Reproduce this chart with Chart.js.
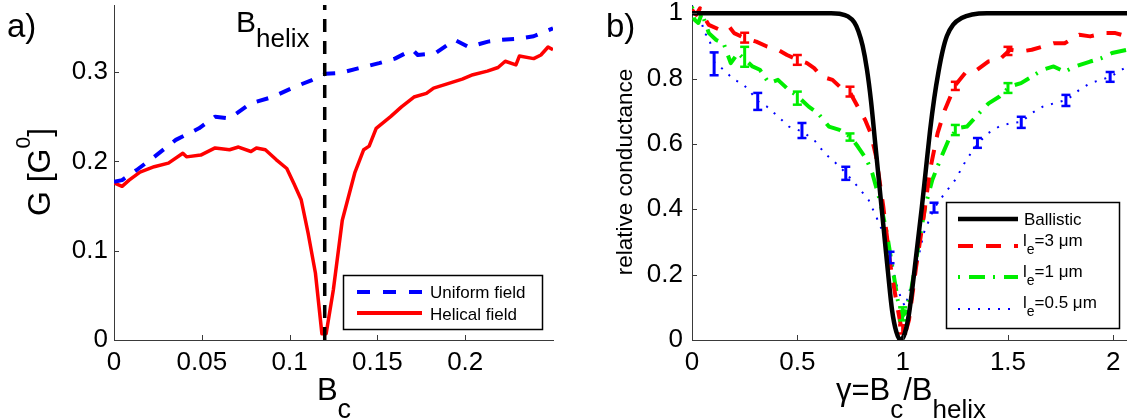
<!DOCTYPE html>
<html><head><meta charset="utf-8">
<script src="https://cdn.jsdelivr.net/npm/chart.js@4/dist/chart.umd.min.js"></script>
<style>
html,body{margin:0;padding:0;background:#fff;overflow:hidden;width:1127px;height:419px}
#c1{position:absolute;left:0;top:0}
#c2{position:absolute;left:560px;top:0}
</style>
</head><body>
<canvas id="c1" width="560" height="419"></canvas>
<canvas id="c2" width="567" height="419"></canvas>
<script>
const FONT = '"Liberation Sans", Arial, Helvetica, sans-serif';

// ---------- Panel a) ----------
const uniformX = [0, 0.0046, 0.0127, 0.0229, 0.0352, 0.0484, 0.0576, 0.0658, 0.078, 0.0902, 0.1025, 0.1127, 0.1204, 0.129, 0.139, 0.151, 0.16, 0.17, 0.173, 0.183, 0.194, 0.202, 0.213, 0.221, 0.229, 0.239, 0.25];
const uniformY = [0.177, 0.179, 0.190, 0.205, 0.224, 0.237, 0.250, 0.248, 0.265, 0.272, 0.283, 0.291, 0.298, 0.299, 0.304, 0.310, 0.315, 0.325, 0.319, 0.321, 0.336, 0.328, 0.334, 0.336, 0.337, 0.340, 0.349];
const helicalX = [0, 0.0046, 0.0086, 0.0148, 0.0229, 0.031, 0.0392, 0.0413, 0.0494, 0.0576, 0.0658, 0.0709, 0.078, 0.0811, 0.0862, 0.0923, 0.0984, 0.1025, 0.1066, 0.1106, 0.1147, 0.1184, 0.1208, 0.1249, 0.13, 0.1371, 0.1422, 0.1453, 0.1493, 0.1575, 0.1637, 0.1708, 0.1779, 0.182, 0.1902, 0.1983, 0.2044, 0.2126, 0.2187, 0.2228, 0.2289, 0.2309, 0.239, 0.2431, 0.2472, 0.25];
const helicalY = [0.176, 0.172, 0.179, 0.188, 0.194, 0.198, 0.209, 0.205, 0.207, 0.215, 0.213, 0.216, 0.211, 0.215, 0.213, 0.202, 0.192, 0.175, 0.157, 0.119, 0.075, 0.007, 0.007, 0.056, 0.134, 0.187, 0.213, 0.217, 0.237, 0.250, 0.261, 0.272, 0.276, 0.282, 0.287, 0.292, 0.297, 0.301, 0.305, 0.312, 0.308, 0.318, 0.315, 0.319, 0.328, 0.325];
const helixMarkX = [0.12, 0.12];
const helixMarkY = [0, 0.375];
const aXTicks = [0, 0.05, 0.1, 0.15, 0.2];
const aXTickLabels = ['0', '0.05', '0.1', '0.15', '0.2'];
const aYTicks = [0, 0.1, 0.2, 0.3];
const aYTickLabels = ['0', '0.1', '0.2', '0.3'];
const aLegend = ['Uniform field', 'Helical field'];

// ---------- Panel b) ----------
const ballisticX = [0, 0.3, 0.6, 0.66, 0.70, 0.74, 0.77, 0.79, 0.81, 0.83, 0.85, 0.87, 0.89, 0.91, 0.93, 0.95, 0.97, 0.99, 1.01, 1.03, 1.05, 1.07, 1.09, 1.11, 1.13, 1.15, 1.17, 1.19, 1.21, 1.24, 1.28, 1.33, 1.4, 1.7, 2.065];
const ballisticY = [1, 1, 1, 1, 0.998, 0.99, 0.972, 0.945, 0.9, 0.83, 0.73, 0.6, 0.47, 0.34, 0.21, 0.09, 0.025, 0, 0.02, 0.08, 0.18, 0.29, 0.4, 0.52, 0.64, 0.74, 0.82, 0.885, 0.93, 0.965, 0.985, 0.996, 1, 1, 1];
const le3X = [0, 0.02, 0.038, 0.055, 0.08, 0.132, 0.176, 0.2, 0.253, 0.305, 0.356, 0.408, 0.451, 0.503, 0.546, 0.58, 0.615, 0.667, 0.7, 0.752, 0.787, 0.822, 0.848, 0.874, 0.908, 0.943, 0.969, 0.995, 1.012, 1.03, 1.064, 1.1, 1.13, 1.166, 1.2, 1.25, 1.302, 1.354, 1.406, 1.458, 1.51, 1.562, 1.613, 1.665, 1.717, 1.769, 1.838, 1.89, 1.958, 2.01, 2.065];
const le3Y = [1.01, 0.995, 1.015, 0.99, 0.964, 0.949, 0.959, 0.939, 0.923, 0.913, 0.898, 0.888, 0.872, 0.857, 0.847, 0.832, 0.806, 0.796, 0.776, 0.755, 0.714, 0.673, 0.633, 0.561, 0.408, 0.224, 0.122, 0.031, 0.02, 0.061, 0.224, 0.378, 0.52, 0.633, 0.704, 0.78, 0.821, 0.827, 0.852, 0.857, 0.888, 0.883, 0.888, 0.898, 0.908, 0.908, 0.934, 0.929, 0.939, 0.939, 0.929];
const le1X = [0, 0.012, 0.03, 0.047, 0.08, 0.115, 0.15, 0.184, 0.218, 0.253, 0.287, 0.322, 0.365, 0.408, 0.451, 0.503, 0.554, 0.598, 0.65, 0.7, 0.752, 0.787, 0.83, 0.856, 0.891, 0.925, 0.951, 0.977, 0.995, 1.012, 1.038, 1.072, 1.107, 1.141, 1.184, 1.218, 1.261, 1.305, 1.356, 1.408, 1.46, 1.51, 1.562, 1.613, 1.665, 1.717, 1.769, 1.82, 1.89, 1.942, 1.994, 2.065];
const le1Y = [1.02, 0.98, 0.97, 1.0, 0.939, 0.918, 0.908, 0.847, 0.878, 0.857, 0.837, 0.827, 0.786, 0.796, 0.77, 0.745, 0.714, 0.694, 0.653, 0.643, 0.622, 0.592, 0.551, 0.51, 0.429, 0.327, 0.224, 0.122, 0.071, 0.082, 0.143, 0.276, 0.408, 0.49, 0.561, 0.612, 0.648, 0.653, 0.689, 0.724, 0.745, 0.776, 0.786, 0.806, 0.827, 0.837, 0.821, 0.837, 0.852, 0.862, 0.878, 0.888];
const le05X = [0, 0.012, 0.038, 0.055, 0.08, 0.107, 0.132, 0.167, 0.2, 0.236, 0.27, 0.313, 0.356, 0.408, 0.46, 0.522, 0.58, 0.63, 0.683, 0.732, 0.787, 0.838, 0.874, 0.908, 0.943, 0.969, 0.995, 1.012, 1.038, 1.072, 1.1, 1.149, 1.2, 1.25, 1.302, 1.358, 1.406, 1.458, 1.51, 1.565, 1.613, 1.665, 1.717, 1.78, 1.838, 1.89, 1.942, 1.988, 2.065];
const le05Y = [1.03, 0.99, 1.015, 0.939, 0.929, 0.847, 0.837, 0.816, 0.796, 0.786, 0.765, 0.73, 0.714, 0.684, 0.653, 0.638, 0.612, 0.571, 0.541, 0.51, 0.469, 0.429, 0.378, 0.327, 0.25, 0.173, 0.122, 0.102, 0.163, 0.245, 0.327, 0.403, 0.449, 0.49, 0.551, 0.602, 0.633, 0.653, 0.663, 0.668, 0.694, 0.714, 0.724, 0.735, 0.765, 0.786, 0.796, 0.806, 0.837];
const le3ErrX = [0.25, 0.5, 0.75, 1.0, 1.25, 1.5];
const le3ErrLo = [0.91, 0.842, 0.745, 0.02, 0.765, 0.872];
const le3ErrHi = [0.94, 0.872, 0.775, 0.045, 0.79, 0.897];
const le1ErrX = [0.25, 0.5, 0.75, 1.0, 1.25, 1.5];
const le1ErrLo = [0.836, 0.72, 0.61, 0.06, 0.627, 0.756];
const le1ErrHi = [0.897, 0.76, 0.632, 0.1, 0.658, 0.786];
const le05ErrX = [0.105, 0.312, 0.522, 0.73, 0.94, 1.149, 1.355, 1.563, 1.775, 1.985];
const le05ErrLo = [0.81, 0.704, 0.618, 0.49, 0.235, 0.39, 0.588, 0.649, 0.716, 0.79];
const le05ErrHi = [0.88, 0.756, 0.664, 0.53, 0.27, 0.42, 0.618, 0.683, 0.75, 0.82];
const bXTicks = [0, 0.5, 1, 1.5, 2];
const bXTickLabels = ['0', '0.5', '1', '1.5', '2'];
const bYTicks = [0, 0.2, 0.4, 0.6, 0.8, 1];
const bYTickLabels = ['0', '0.2', '0.4', '0.6', '0.8', '1'];
const bLegend = ['Ballistic', '=3 μm', '=1 μm', '=0.5 μm'];

// ---------- helpers ----------
const pts = (xs, ys) => xs.map((x, i) => ({x: x, y: ys[i]}));
const stems = (xs, lo, hi) => xs.flatMap((x, i) => [{x: x, y: lo[i]}, {x: x, y: hi[i]}, {x: x, y: null}]);
const caps = (xs, lo, hi) => xs.flatMap((x, i) => [{x: x, y: lo[i]}, {x: x, y: hi[i]}]);

const BLUE = '#0000ff', RED = '#ff0000', GREEN = '#00ee00', BLACK = '#000000', AXIS = '#3a3a3a';

function lineDs(data, color, width, dash, order, extra) {
  return Object.assign({data: data, showLine: true, borderColor: color, backgroundColor: color,
    borderWidth: width, borderDash: dash, pointRadius: 0, fill: false, order: order,
    borderJoinStyle: 'round', borderCapStyle: 'butt', tension: 0}, extra || {});
}

function richText(ctx, parts, x, y, align) {
  let w = 0;
  const ws = parts.map(p => { ctx.font = p[1] + 'px ' + FONT; const m = ctx.measureText(p[0]).width; w += m; return m; });
  let cx = align === 'center' ? x - w / 2 : x;
  ctx.textAlign = 'left'; ctx.textBaseline = 'alphabetic'; ctx.fillStyle = '#000';
  parts.forEach((p, i) => { ctx.font = p[1] + 'px ' + FONT; ctx.fillText(p[0], cx, y + (p[2] || 0)); cx += ws[i]; });
}

function inwardTicks(chart, xt, yt) {
  const ctx = chart.ctx, a = chart.chartArea, xs = chart.scales.x, ys = chart.scales.y;
  ctx.save(); ctx.strokeStyle = AXIS; ctx.lineWidth = 1; ctx.setLineDash([]);
  ctx.beginPath();
  xt.forEach(v => { const p = Math.round(xs.getPixelForValue(v)) + 0.5; ctx.moveTo(p, a.bottom); ctx.lineTo(p, a.bottom - 5); });
  yt.forEach(v => { const p = Math.round(ys.getPixelForValue(v)) + 0.5; ctx.moveTo(a.left, p); ctx.lineTo(a.left + 5, p); });
  ctx.stroke(); ctx.restore();
}

function legendLine(ctx, x1, x2, y, color, width, dash) {
  ctx.save(); ctx.strokeStyle = color; ctx.lineWidth = width; ctx.setLineDash(dash); ctx.lineCap = 'butt';
  ctx.beginPath(); ctx.moveTo(x1, y); ctx.lineTo(x2, y); ctx.stroke(); ctx.restore();
}

function legendBox(ctx, x, y, w, h) {
  ctx.save(); ctx.fillStyle = '#fff'; ctx.fillRect(x, y, w, h);
  ctx.strokeStyle = '#000'; ctx.lineWidth = 1.5; ctx.setLineDash([]); ctx.strokeRect(x, y, w, h); ctx.restore();
}

function scaleBase(min, max, ticks, labels, axisSize, isX, pad) {
  return {
    type: 'linear', min: min, max: max,
    grid: {display: false, drawTicks: false},
    border: {display: true, color: AXIS, width: 1},
    ticks: {color: '#000', font: {family: FONT, size: 26}, padding: pad, autoSkip: false, maxRotation: 0,
      callback: (v, i) => labels[i]},
    afterBuildTicks: s => { s.ticks = ticks.map(v => ({value: v})); },
    afterFit: s => { if (isX) s.height = axisSize; else s.width = axisSize;
      s.paddingLeft = 0; s.paddingRight = 0; s.paddingTop = 0; s.paddingBottom = 0; }
  };
}

const common = {
  responsive: false, animation: false, devicePixelRatio: 1, events: [],
  plugins: {legend: {display: false}, tooltip: {enabled: false}, title: {display: false}}
};

// ---------- Chart a ----------
const plugA = {
  id: 'panelA',
  afterDraw(chart) {
    const ctx = chart.ctx;
    inwardTicks(chart, aXTicks, aYTicks);
    ctx.save();
    richText(ctx, [['a)', 33, 0]], 7, 37, 'left');
    richText(ctx, [['B', 30, 0], ['helix', 26, 15]], 236, 32, 'left');
    richText(ctx, [['B', 31, 0], ['c', 27, 18]], 334, 400, 'center');
    ctx.save(); ctx.translate(50, 172); ctx.rotate(-Math.PI / 2);
    richText(ctx, [['G [G', 32, 0], ['0', 21, -20], [']', 32, 0]], 0, 0, 'center');
    ctx.restore();
    legendBox(ctx, 343.5, 275.5, 199, 54);
    legendLine(ctx, 357, 422, 292, BLUE, 4, [13, 13]);
    legendLine(ctx, 357, 422, 313, RED, 4, []);
    richText(ctx, [[aLegend[0], 17, 0]], 430, 298, 'left');
    richText(ctx, [[aLegend[1], 17, 0]], 430, 320, 'left');
    ctx.restore();
  }
};

new Chart(document.getElementById('c1'), {
  type: 'scatter',
  data: {datasets: [
    lineDs(pts(helixMarkX, helixMarkY), BLACK, 3.5, [13, 9], 0),
    lineDs(pts(uniformX, uniformY), BLUE, 4, [12, 12], 1),
    lineDs(pts(helicalX, helicalY), RED, 3.5, [], 2)
  ]},
  options: Object.assign({}, common, {
    layout: {padding: {left: 0, top: 5, right: 7, bottom: 0}, autoPadding: false},
    scales: {
      x: scaleBase(0, 0.25, aXTicks, aXTickLabels, 79, true, 7),
      y: scaleBase(0, 0.375, aYTicks, aYTickLabels, 114, false, 6)
    }
  }),
  plugins: [plugA]
});

// ---------- Chart b ----------
const plugB = {
  id: 'panelB',
  afterDraw(chart) {
    const ctx = chart.ctx;
    inwardTicks(chart, bXTicks, bYTicks);
    ctx.save();
    richText(ctx, [['b)', 33, 0]], 46, 37, 'left');
    ctx.save(); ctx.translate(72, 172); ctx.rotate(-Math.PI / 2);
    richText(ctx, [['relative conductance', 22.5, 0]], 0, 0, 'center');
    ctx.restore();
    richText(ctx, [['γ=B', 31, 0], ['c', 26, 18], ['/B', 31, 0], ['helix', 26, 18]], 351, 400, 'center');
    legendBox(ctx, 386.5, 202.5, 173, 126);
    legendLine(ctx, 398, 458, 219, BLACK, 4.5, []);
    legendLine(ctx, 398, 458, 246, RED, 4, [15, 13]);
    legendLine(ctx, 398, 458, 277, GREEN, 4, [2, 9, 16, 8]);
    legendLine(ctx, 398, 458, 309, BLUE, 2, [2, 8]);
    richText(ctx, [[bLegend[0], 17, 0]], 464, 225, 'left');
    richText(ctx, [['l', 17, 0], ['e', 14, 8], [bLegend[1], 17, 0]], 463, 246, 'left');
    richText(ctx, [['l', 17, 0], ['e', 14, 8], [bLegend[2], 17, 0]], 463, 277, 'left');
    richText(ctx, [['l', 17, 0], ['e', 14, 8], [bLegend[3], 17, 0]], 463, 308, 'left');
    ctx.restore();
  }
};

new Chart(document.getElementById('c2'), {
  type: 'scatter',
  data: {datasets: [
    lineDs(pts(ballisticX, ballisticY), BLACK, 4.5, [], 0, {cubicInterpolationMode: 'monotone'}),
    lineDs(stems(le05ErrX, le05ErrLo, le05ErrHi), BLUE, 3, [], 1),
    lineDs(caps(le05ErrX, le05ErrLo, le05ErrHi), BLUE, 2.5, [], 1, {showLine: false, pointStyle: 'line', pointRadius: 4.5, pointBorderWidth: 2.5, pointBorderColor: BLUE}),
    lineDs(stems(le3ErrX, le3ErrLo, le3ErrHi), RED, 3, [], 2),
    lineDs(caps(le3ErrX, le3ErrLo, le3ErrHi), RED, 2.5, [], 2, {showLine: false, pointStyle: 'line', pointRadius: 4.5, pointBorderWidth: 2.5, pointBorderColor: RED}),
    lineDs(stems(le1ErrX, le1ErrLo, le1ErrHi), GREEN, 3, [], 3),
    lineDs(caps(le1ErrX, le1ErrLo, le1ErrHi), GREEN, 2.5, [], 3, {showLine: false, pointStyle: 'line', pointRadius: 4.5, pointBorderWidth: 2.5, pointBorderColor: GREEN}),
    lineDs(pts(le3X, le3Y), RED, 4, [15, 13], 4),
    lineDs(pts(le1X, le1Y), GREEN, 4, [2, 9, 16, 8], 5),
    lineDs(pts(le05X, le05Y), BLUE, 2, [2, 8], 6)
  ]},
  options: Object.assign({}, common, {
    layout: {padding: {left: 0, top: 5, right: 0, bottom: 0}, autoPadding: false},
    scales: {
      x: scaleBase(0, 2.065, bXTicks, bXTickLabels, 79, true, 7),
      y: scaleBase(0, 1.025, bYTicks, bYTickLabels, 132, false, 9)
    }
  }),
  plugins: [plugB]
});
</script>
</body></html>
